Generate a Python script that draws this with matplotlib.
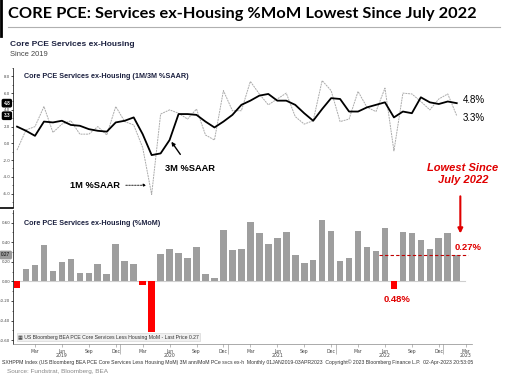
import matplotlib
matplotlib.use('Agg')
import matplotlib.pyplot as plt
from matplotlib.lines import Line2D
from matplotlib.ticker import MultipleLocator, FixedLocator
import numpy as np

# monthly data, Jan 2019 .. Feb 2023
mom = [-0.07, 0.13, 0.17, 0.37, 0.11, 0.20, 0.23, 0.09, 0.09, 0.18,
       0.08, 0.38, 0.21, 0.18, -0.04, -0.52, 0.28, 0.33, 0.29, 0.24,
       0.35, 0.08, 0.03, 0.53, 0.32, 0.33, 0.61, 0.49, 0.38, 0.44,
       0.50, 0.27, 0.19, 0.22, 0.63, 0.52, 0.21, 0.24, 0.52, 0.35,
       0.31, 0.55, -0.08, 0.50, 0.49, 0.42, 0.33, 0.44, 0.49, 0.27]

saar_1m = [-0.8, 1.6, 2.0, 4.4, 1.3, 2.3, 2.7, 1.1, 1.1, 2.0,
           1.0, 4.4, 2.6, 2.2, -0.5, -6.1, 3.5, 4.0, 3.6, 2.9,
           4.1, 1.0, 0.4, 6.3, 3.9, 3.9, 7.4, 5.9, 4.6, 5.3,
           6.0, 3.2, 2.3, 2.7, 7.5, 6.3, 2.6, 2.9, 6.2, 4.3,
           3.8, 6.6, -0.9, 6.0, 5.9, 5.0, 4.0, 5.3, 5.9, 3.3]

saar_3m = [2.0, 1.5, 0.9, 2.6, 2.5, 2.7, 2.2, 2.1, 1.7, 1.5,
           1.4, 2.5, 2.7, 3.1, 1.1, -1.4, -1.2, 0.4, 3.5, 3.5,
           3.4, 2.6, 1.9, 2.6, 3.4, 4.6, 5.1, 5.7, 5.9, 5.1,
           5.1, 4.6, 3.6, 2.7, 4.1, 5.4, 5.3, 3.8, 3.8, 4.3,
           4.6, 4.9, 3.1, 3.8, 3.6, 5.5, 4.9, 4.7, 5.0, 4.8]

tick_pos = [2, 5, 8, 11, 14, 17, 20, 23, 26, 29, 32, 35, 38, 41, 44, 47, 50]
tick_lbl = ['Mar', 'Jun\n2019', 'Sep', 'Dec', 'Mar', 'Jun\n2020', 'Sep', 'Dec',
            'Mar', 'Jun\n2021', 'Sep', 'Dec', 'Mar', 'Jun\n2022', 'Sep', 'Dec',
            'Mar\n2023']
year_breaks = [11.5, 23.5, 35.5, 47.5]

x = np.arange(len(mom))
SANS = ['Liberation Sans', 'DejaVu Sans']
NAVY = '#1c2140'
RED = '#e00000'


def px(xp, yp):
	''' pixel -> figure fraction '''
	return xp / 512, 1 - yp / 388


fig = plt.figure(figsize=(5.12, 3.88), dpi=100)
fig.patch.set_facecolor('white')

# header
fig.text(*px(8, 14), 'CORE PCE: Services ex-Housing %MoM Lowest Since July 2022',
	fontsize=11.8, fontweight='bold', family=['Lato', 'DejaVu Sans'], va='center', ha='left')
fig.add_artist(Line2D([8 / 512, 500 / 512], [1 - 27 / 388] * 2, color='#b0b0b0', lw=0.8))
fig.add_artist(Line2D([1 / 512] * 2, [1, 1 - 36 / 388], color='black', lw=2))
fig.text(*px(10, 45), 'Core PCE Services ex-Housing', fontsize=6, fontweight='bold',
	family=SANS, color=NAVY, va='center')
fig.text(*px(10, 55), 'Since 2019', fontsize=5.4, family=SANS, color='#444444', va='center')

# ---- top panel : 1M / 3M SAAR
ax1 = fig.add_axes([13 / 512, 1 - 207 / 388, 459 / 512, 139 / 388])
ax1.plot(x, saar_1m, color='#ababab', lw=0.7, linestyle=(0, (2, 0.8)))
ax1.plot(x, saar_3m, color='black', lw=1.3)
ax1.set_xlim(-0.45, 50.7)
ax1.set_ylim(-7.6, 9.0)
ax1.yaxis.set_major_locator(FixedLocator([-6, -4, -2, 0, 2, 4, 6, 8]))
ax1.yaxis.set_minor_locator(MultipleLocator(1))
ax1.set_yticklabels(['-6.0', '-4.0', '-2.0', '0.0', '2.0', '4.0', '6.0', '8.0'])
ax1.tick_params(axis='y', labelsize=2.9, length=1.5, width=0.5, pad=0.5, labelcolor='#444444')
ax1.tick_params(axis='y', which='minor', length=0.8, width=0.4)
ax1.set_xticks([])
for s in ['top', 'right', 'bottom']:
	ax1.spines[s].set_visible(False)
ax1.spines['left'].set_linewidth(0.5)
ax1.patch.set_alpha(0)

ax1.text(0.025, 0.94, 'Core PCE Services ex-Housing (1M/3M %SAAR)', transform=ax1.transAxes,
	fontsize=5.2, fontweight='bold', family=SANS, color=NAVY, va='center')

for val in [saar_3m[-1], saar_1m[-1]]:
	ax1.annotate('%.1f' % val, xy=(0, val), xycoords=('axes fraction', 'data'),
		xytext=(-2, 0), textcoords='offset points', ha='right', va='center',
		fontsize=3.4, fontweight='bold', color='white', family=SANS,
		bbox=dict(boxstyle='round,pad=0.25', fc='black', ec='black'), annotation_clip=False)

ax1.text(x[-1] + 0.7, saar_3m[-1] + 0.4, '%.1f%%' % saar_3m[-1], fontsize=7, family=SANS,
	va='center', ha='left')
ax1.text(x[-1] + 0.7, saar_1m[-1] - 0.3, '%.1f%%' % saar_1m[-1], fontsize=7, family=SANS,
	va='center', ha='left')

ax1.annotate('3M %SAAR', xy=(17.2, saar_3m[17] - 0.2), xytext=(19.3, -3.0),
	fontsize=6.7, fontweight='bold', family=SANS, ha='center', va='center',
	arrowprops=dict(arrowstyle='-|>', color='black', lw=1.0, mutation_scale=5,
		shrinkA=6, shrinkB=0))
ax1.annotate('1M %SAAR', xy=(14.4, -5.0), xytext=(11.5, -5.0),
	fontsize=6.7, fontweight='bold', family=SANS, ha='right', va='center',
	arrowprops=dict(arrowstyle='-|>', color='black', lw=0.6, linestyle=(0, (2, 1.5)),
		mutation_scale=4, shrinkA=2, shrinkB=0))

# separator between panels
fig.add_artist(Line2D([0, 13 / 512], [1 - 208 / 388] * 2, color='black', lw=1.2))

# ---- bottom panel : MoM bars
ax2 = fig.add_axes([13 / 512, 1 - 344 / 388, 459 / 512, 134 / 388])
colors = ['#ff0000' if v < 0 else '#9e9e9e' for v in mom]
ax2.bar(x, mom, width=0.74, color=colors)
ax2.axhline(0, color='#cfcfcf', lw=0.8, xmax=0.985, zorder=0)
ax2.set_xlim(-0.45, 50.7)
ax2.set_ylim(-0.64, 0.73)
ax2.yaxis.set_major_locator(FixedLocator([-0.6, -0.4, -0.2, 0, 0.2, 0.4, 0.6]))
ax2.yaxis.set_minor_locator(MultipleLocator(0.1))
ax2.set_yticklabels(['-0.60', '-0.40', '-0.20', '0.00', '0.20', '0.40', '0.60'])
ax2.tick_params(axis='y', labelsize=2.9, length=1.5, width=0.5, pad=0.5, labelcolor='#444444')
ax2.tick_params(axis='y', which='minor', length=0.8, width=0.4)
ax2.set_xticks(tick_pos)
ax2.set_xticklabels(tick_lbl)
ax2.xaxis.set_minor_locator(FixedLocator(year_breaks))
ax2.tick_params(axis='x', labelsize=3.3, length=2, width=0.4, pad=1.5, labelcolor='#444444',
	color='#888888')
ax2.tick_params(axis='x', which='minor', length=7, width=0.4, color='#888888')
for lab in ax2.get_xticklabels():
	lab.set_linespacing(0.9)
for s in ['top', 'right']:
	ax2.spines[s].set_visible(False)
ax2.spines['left'].set_linewidth(0.5)
ax2.spines['bottom'].set_linewidth(0.5)
ax2.spines['bottom'].set_color('#888888')

ax2.text(0.025, 0.90, 'Core PCE Services ex-Housing (%MoM)', transform=ax2.transAxes,
	fontsize=5.2, fontweight='bold', family=SANS, color=NAVY, va='center')

ax2.annotate('%.2f' % mom[-1], xy=(0, mom[-1]), xycoords=('axes fraction', 'data'),
	xytext=(-2, 0), textcoords='offset points', ha='right', va='center',
	fontsize=3.4, color='black', family=SANS,
	bbox=dict(boxstyle='round,pad=0.25', fc='#9a9a9a', ec='#9a9a9a'), annotation_clip=False)

ax2.text(0.011, 0.05, '\u25a6 US Bloomberg BEA PCE Core Services Less Housing MoM - Last Price %.2f' % mom[-1],
	transform=ax2.transAxes, fontsize=3.7, family=SANS, color='#333333', va='center',
	bbox=dict(boxstyle='square,pad=0.3', fc='#f0f0f0', ec='#d0d0d0', lw=0.4))

# last reading marker line + labels
ax2.plot([40.3, 50.2], [mom[-1], mom[-1]], color='#c00000', lw=0.8, linestyle=(0, (3, 2)))
ax2.text(48.8, mom[-1] + 0.08, '%.2f%%' % mom[-1], fontsize=6.8, fontweight='bold',
	family=SANS, color=RED, ha='left', va='center')
ax2.text(42.3, -0.18, '0.48%', fontsize=6.8, fontweight='bold', family=SANS,
	color=RED, ha='center', va='center')
ax2.annotate('', xy=(49.4, mom[-1] + 0.22), xytext=(49.4, mom[-1] + 0.6),
	arrowprops=dict(arrowstyle='-|>', color=RED, lw=1.5, mutation_scale=7, shrinkA=0, shrinkB=0),
	annotation_clip=False)
fig.text(*px(463, 174), 'Lowest Since\nJuly 2022', fontsize=8, fontweight='bold',
	fontstyle='italic', family=SANS, color=RED, ha='center', va='center', linespacing=1.15)

# footer
fig.text(*px(2, 362), 'SXHPPM Index (US Bloomberg BEA PCE Core Services Less Housing MoM) 3M ann/MoM PCe svcs ex-h  '
	'Monthly 01JAN2019-03APR2023  Copyright\u00a9 2023 Bloomberg Finance L.P.  02-Apr-2023 20:53:05',
	fontsize=3.7, family=SANS, color='#333333', va='center')
fig.text(*px(7, 372), 'Source: Fundstrat, Bloomberg, BEA', fontsize=4.6, family=SANS,
	color='#888888', va='center')

plt.savefig('out.png', dpi=100)
plt.close()
